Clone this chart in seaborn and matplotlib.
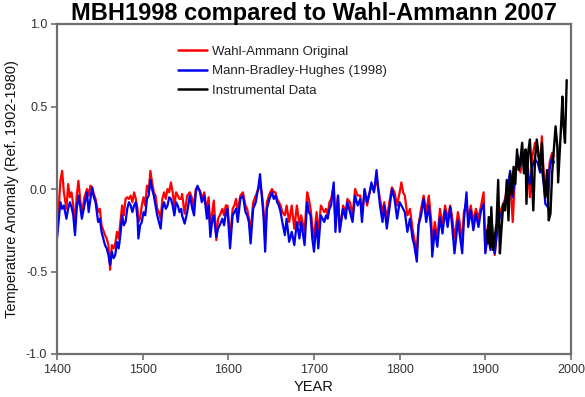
import matplotlib
matplotlib.use("Agg")
import matplotlib.pyplot as plt
import seaborn as sns
import pandas as pd

# ---- data ----
recon_years = [
    1400, 1404, 1406, 1408, 1411, 1413, 1415, 1417, 1419, 1421, 1423, 1425, 1427, 1429, 1432,
    1435, 1437, 1439, 1441, 1443, 1445, 1448, 1450, 1452, 1454, 1456, 1458, 1460, 1462, 1464,
    1466, 1468, 1470, 1472, 1474, 1476, 1478, 1480, 1482, 1484, 1486, 1488, 1490, 1492, 1494,
    1495, 1497, 1499, 1501, 1503, 1505, 1507, 1509, 1511, 1513, 1515, 1517, 1519, 1521, 1523,
    1525, 1527, 1529, 1531, 1533, 1535, 1537, 1539, 1541, 1543, 1545,
    1546, 1549, 1552, 1555, 1558, 1560, 1562, 1564, 1567, 1569, 1572, 1575, 1577, 1579, 1581,
    1583, 1586, 1588, 1590, 1593, 1595, 1597, 1599, 1602, 1605, 1607, 1609, 1611, 1614, 1617,
    1620, 1622, 1624, 1626, 1629, 1632, 1635, 1637, 1639, 1641, 1643, 1645, 1648, 1651, 1653,
    1655, 1657, 1659, 1661, 1663, 1666, 1668, 1671, 1674, 1677, 1680, 1683, 1685, 1689, 1692,
    1694,
    1696, 1698, 1700, 1703, 1705, 1708, 1710, 1712, 1714, 1716, 1718, 1720, 1723, 1725, 1728,
    1730, 1734, 1737, 1739, 1742, 1745, 1748, 1751, 1754, 1756, 1759, 1762, 1765, 1767, 1770,
    1773, 1775, 1777, 1780, 1782, 1785, 1788, 1791, 1794, 1797, 1800, 1802, 1804, 1806, 1809,
    1812, 1815, 1817, 1820, 1822, 1825, 1828, 1831, 1834, 1837,
    1838, 1841, 1844, 1847, 1850, 1853, 1856, 1859, 1861, 1864, 1868, 1870, 1873, 1875, 1878,
    1880, 1883, 1886, 1889, 1892, 1895, 1898, 1900, 1903, 1906, 1908, 1911, 1914, 1917, 1920,
    1923, 1926, 1929, 1932, 1935, 1938, 1941, 1943, 1947, 1950, 1952, 1955, 1958, 1961, 1964,
    1966, 1968, 1970, 1973, 1975, 1978, 1980,
]

mbh1998 = [
    -0.30, -0.08, -0.12, -0.10, -0.18, -0.12, -0.08, -0.11, -0.16, -0.28, -0.12, -0.04, -0.10, -0.18, -0.10,
    -0.02, -0.14, -0.06, 0.01, -0.05, -0.08, -0.20, -0.18, -0.26, -0.30, -0.34, -0.36, -0.40, -0.46, -0.38,
    -0.42, -0.40, -0.32, -0.36, -0.28, -0.16, -0.22, -0.20, -0.12, -0.08, -0.10, -0.14, -0.10, -0.08, -0.18,
    -0.30, -0.22, -0.20, -0.14, -0.16, -0.06, -0.04, 0.055, 0.00, -0.04, -0.10, -0.16, -0.20, -0.24, -0.12,
    -0.08, -0.12, -0.10, -0.05, -0.06, -0.10, -0.16, -0.08, -0.10, -0.14, -0.12,
    -0.16, -0.21, -0.14, -0.04, -0.12, -0.16, -0.02, 0.02, -0.02, -0.08, -0.04, -0.18, -0.10, -0.29, -0.20,
    -0.16, -0.29, -0.24, -0.22, -0.18, -0.22, -0.15, -0.12, -0.36, -0.16, -0.14, -0.12, -0.20, -0.06, -0.04,
    -0.14, -0.16, -0.20, -0.33, -0.12, -0.08, 0.01, 0.09, -0.04, -0.16, -0.38, -0.12, -0.06, -0.02, -0.06,
    -0.04, -0.08, -0.10, -0.14, -0.20, -0.28, -0.18, -0.32, -0.26, -0.34, -0.20, -0.30, -0.20, -0.34, -0.08,
    -0.14,
    -0.16, -0.30, -0.38, -0.20, -0.36, -0.16, -0.18, -0.20, -0.16, -0.18, -0.12, -0.10, 0.04, -0.26, -0.04,
    -0.26, -0.12, -0.18, -0.08, -0.14, -0.20, -0.04, -0.10, -0.06, -0.20, 0.00, -0.08, -0.02, 0.04, -0.02,
    0.115, 0.00, -0.10, -0.20, -0.10, -0.24, -0.12, 0.00, -0.06, -0.18, -0.08, -0.10, -0.12, -0.14, -0.26,
    -0.18, -0.30, -0.34, -0.44, -0.22, -0.16, -0.06, -0.20, -0.10, -0.26,
    -0.41, -0.25, -0.35, -0.17, -0.27, -0.13, -0.23, -0.11, -0.21, -0.39, -0.19, -0.27, -0.39, -0.19, -0.02,
    -0.23, -0.13, -0.25, -0.15, -0.23, -0.13, -0.09, -0.39, -0.27, -0.37, -0.29, -0.39, -0.25, -0.17, -0.13,
    -0.09, 0.01, 0.11, -0.05, 0.10, 0.20, 0.14, 0.18, 0.20, 0.08, 0.03, 0.14, 0.18, 0.16, 0.10,
    0.12, 0.04, -0.09, -0.11, 0.12, 0.20, 0.16,
]

wahl_ammann = [
    -0.28, 0.05, 0.11, -0.02, -0.12, 0.03, -0.05, -0.02, -0.10, -0.22, -0.04, 0.05, -0.06, -0.15, -0.05,
    0.00, -0.04, 0.02, 0.01, -0.03, -0.06, -0.14, -0.12, -0.22, -0.25, -0.28, -0.30, -0.34, -0.49, -0.34,
    -0.36, -0.33, -0.26, -0.30, -0.20, -0.10, -0.16, -0.06, -0.05, -0.06, -0.04, -0.08, -0.02, -0.06, -0.12,
    -0.20, -0.18, -0.10, -0.05, -0.10, 0.02, -0.02, 0.11, 0.04, -0.02, -0.04, -0.12, -0.14, -0.18, -0.06,
    -0.02, -0.06, 0.00, -0.02, 0.04, -0.02, -0.10, -0.02, -0.04, -0.06, -0.06,
    -0.03, -0.15, -0.04, -0.02, -0.06, -0.12, 0.00, 0.01, -0.01, -0.06, -0.02, -0.14, -0.05, -0.24, -0.15,
    -0.07, -0.31, -0.18, -0.16, -0.12, -0.16, -0.10, -0.10, -0.30, -0.12, -0.10, -0.06, -0.14, -0.04, -0.02,
    -0.10, -0.12, -0.18, -0.26, -0.08, -0.04, 0.00, 0.02, -0.02, -0.12, -0.30, -0.08, -0.03, 0.00, -0.02,
    -0.02, -0.06, -0.08, -0.10, -0.14, -0.16, -0.10, -0.20, -0.10, -0.24, -0.10, -0.22, -0.16, -0.26, -0.02,
    -0.06,
    -0.12, -0.22, -0.30, -0.14, -0.28, -0.10, -0.12, -0.14, -0.12, -0.16, -0.08, -0.06, 0.02, -0.20, -0.04,
    -0.24, -0.10, -0.14, -0.06, -0.08, -0.16, 0.00, -0.04, -0.04, -0.16, -0.01, -0.10, -0.02, 0.02, -0.01,
    0.06, 0.00, -0.06, -0.14, -0.08, -0.18, -0.08, 0.01, -0.02, -0.10, -0.02, 0.04, -0.02, -0.04, -0.16,
    -0.12, -0.24, -0.30, -0.38, -0.22, -0.12, -0.04, -0.14, -0.04, -0.20,
    -0.34, -0.20, -0.30, -0.12, -0.22, -0.10, -0.18, -0.10, -0.16, -0.30, -0.14, -0.20, -0.32, -0.14, -0.08,
    -0.18, -0.10, -0.20, -0.12, -0.18, -0.10, -0.02, -0.38, -0.22, -0.30, -0.22, -0.40, -0.20, -0.14, -0.10,
    -0.06, 0.02, 0.06, -0.20, 0.12, 0.18, 0.10, 0.20, 0.16, 0.12, -0.05, 0.20, 0.28, 0.22, 0.14,
    0.32, 0.10, 0.00, -0.04, 0.16, 0.22, 0.20,
]

instr_years = [
    1902, 1903, 1904, 1906, 1907, 1909, 1911, 1913, 1915, 1917, 1919, 1921, 1923, 1925, 1927,
    1929, 1931, 1933, 1935, 1937, 1939, 1941, 1943, 1945, 1947, 1948, 1950, 1952, 1954, 1956,
    1958, 1960, 1962, 1964, 1966, 1968, 1970, 1972, 1974, 1976, 1978, 1980, 1982, 1984, 1985,
    1988, 1990, 1991, 1993, 1995,
]
instrumental = [
    -0.25, -0.33, -0.17, -0.35, -0.11, -0.37, -0.29, -0.21, 0.055, -0.39, -0.23, -0.09, -0.13, 0.055, -0.19,
    0.095, -0.03, 0.135, 0.03, 0.24, 0.115, 0.18, 0.28, 0.095, 0.24, -0.09, 0.22, 0.30, 0.115, -0.13,
    0.18, 0.30, 0.22, 0.115, 0.28, 0.055, -0.05, 0.115, -0.19, -0.15, 0.095, 0.24, 0.38, 0.26, 0.04,
    0.34, 0.56, 0.40, 0.28, 0.66,
]

series_labels = ["Wahl-Ammann Original", "Mann-Bradley-Hughes (1998)", "Instrumental Data"]
x_ticks = [1400, 1500, 1600, 1700, 1800, 1900, 2000]
y_ticks = [-1.0, -0.5, 0.0, 0.5, 1.0]

# ---- figure ----
sns.set_theme(style="white")
plt.rcParams["font.family"] = ["Liberation Sans", "DejaVu Sans"]

fig = plt.figure(figsize=(5.85, 3.97), dpi=100)
fig.subplots_adjust(left=57 / 585, right=571 / 585, bottom=(397 - 354) / 397, top=(397 - 24) / 397)
ax = fig.add_subplot(111)

recon = pd.DataFrame({"year": recon_years, "wa": wahl_ammann, "mbh": mbh1998})
instr = pd.DataFrame({"year": instr_years, "val": instrumental})

sns.lineplot(data=recon, x="year", y="wa", color="#ff0000", lw=1.6, ax=ax,
             label=series_labels[0], estimator=None)
sns.lineplot(data=recon, x="year", y="mbh", color="#0000ee", lw=1.6, ax=ax,
             label=series_labels[1], estimator=None)
sns.lineplot(data=instr, x="year", y="val", color="#000000", lw=1.7, ax=ax,
             label=series_labels[2], estimator=None)

ax.set_xlim(1400, 2000)
ax.set_ylim(-1.0, 1.0)
ax.set_xticks(x_ticks)
ax.set_yticks(y_ticks)
ax.set_yticklabels([f"{v:.1f}" for v in y_ticks])

for s in ax.spines.values():
    s.set_visible(True)
    s.set_color("#6e6e6e")
    s.set_linewidth(1.6)

ax.tick_params(axis="both", direction="out", length=4, width=1.2, color="#6e6e6e",
               labelsize=9, labelcolor="#333333", pad=3,
               bottom=True, left=True, top=False, right=False)

ax.set_xlabel("YEAR", fontsize=10.5, color="#111111", labelpad=3)
ax.set_ylabel("Temperature Anomaly (Ref. 1902-1980)", fontsize=10.5, color="#111111", labelpad=5)
ax.set_title("MBH1998 compared to Wahl-Ammann 2007", fontsize=17, fontweight="bold",
             color="black", pad=3)

leg = ax.legend(loc="upper left", bbox_to_anchor=(0.235, 0.935), frameon=False,
                fontsize=9.5, handlelength=2.2, handletextpad=0.4, labelspacing=0.55,
                borderpad=0, borderaxespad=0)
for line in leg.get_lines():
    line.set_linewidth(1.8)
for t in leg.get_texts():
    t.set_color("#222222")

ax.grid(False)
fig.savefig("out.png", dpi=100)
